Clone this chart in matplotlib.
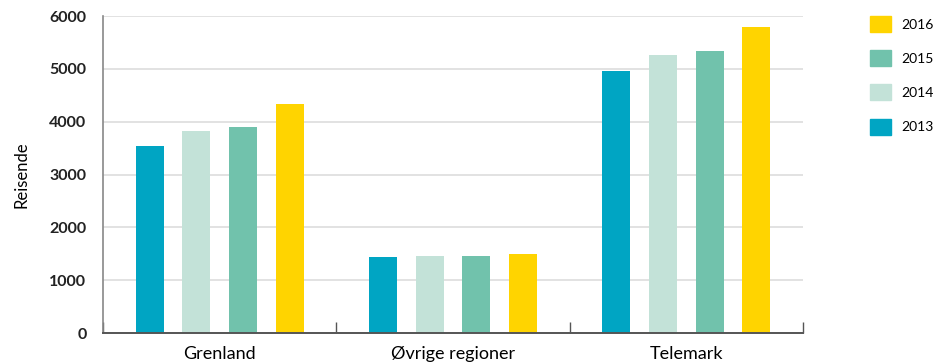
import numpy as np
import matplotlib
matplotlib.use('Agg')
import matplotlib.pyplot as plt
from matplotlib.patches import Patch

plt.rcParams['font.family'] = ['Lato', 'DejaVu Sans']

regions = ['Grenland', 'Øvrige regioner', 'Telemark']
years = ['2013', '2014', '2015', '2016']
v2013 = [3540, 1437, 4968]
v2014 = [3825, 1456, 5270]
v2015 = [3900, 1456, 5345]
v2016 = [4335, 1494, 5800]
series = [v2013, v2014, v2015, v2016]
colors = ['#00a5c3', '#c3e2d8', '#71c2ac', '#ffd400']

fig = plt.figure(figsize=(9.37, 3.64), dpi=100)
ax = fig.add_axes([0.110, 0.085, 0.747, 0.871])

x = np.arange(len(regions))
offsets = [-0.3, -0.1, 0.1, 0.3]
for vals, off, col, yr in zip(series, offsets, colors, years):
    ax.bar(x + off, vals, width=0.12, color=col, label=yr, zorder=2)

ax.set_xlim(-0.5, 2.5)
ax.set_ylim(0, 6000)
ax.set_yticks(range(0, 6001, 1000))
ax.yaxis.grid(True, color='#dddddd', linewidth=1.2, zorder=0)
ax.set_axisbelow(True)

ax.spines['top'].set_visible(False)
ax.spines['right'].set_visible(False)
ax.spines['left'].set_color('#888888')
ax.spines['left'].set_linewidth(1.2)
ax.spines['bottom'].set_color('#555555')
ax.spines['bottom'].set_linewidth(1.4)

ax.set_xticks(x)
ax.set_xticklabels(regions, fontsize=13)
ax.set_xticks([-0.5, 0.5, 1.5, 2.5], minor=True)
ax.tick_params(axis='x', which='major', length=0, pad=9)
ax.tick_params(axis='x', which='minor', direction='in', length=8, color='#555555', width=1)
ax.tick_params(axis='y', length=0, pad=12, labelsize=11.5)
for lab in ax.get_yticklabels():
    lab.set_fontweight('bold')
    lab.set_color('#222222')

ax.set_ylabel('Reisende', fontsize=12, labelpad=14)

handles = [Patch(color=c) for c in colors][::-1]
leg = ax.legend(handles, years[::-1], loc='upper left', bbox_to_anchor=(1.082, 1.03),
                frameon=False, fontsize=10, handlelength=1.5, handleheight=1.4,
                labelspacing=1.3, handletextpad=0.75, borderaxespad=0.3)

fig.savefig('out.png', dpi=100)
